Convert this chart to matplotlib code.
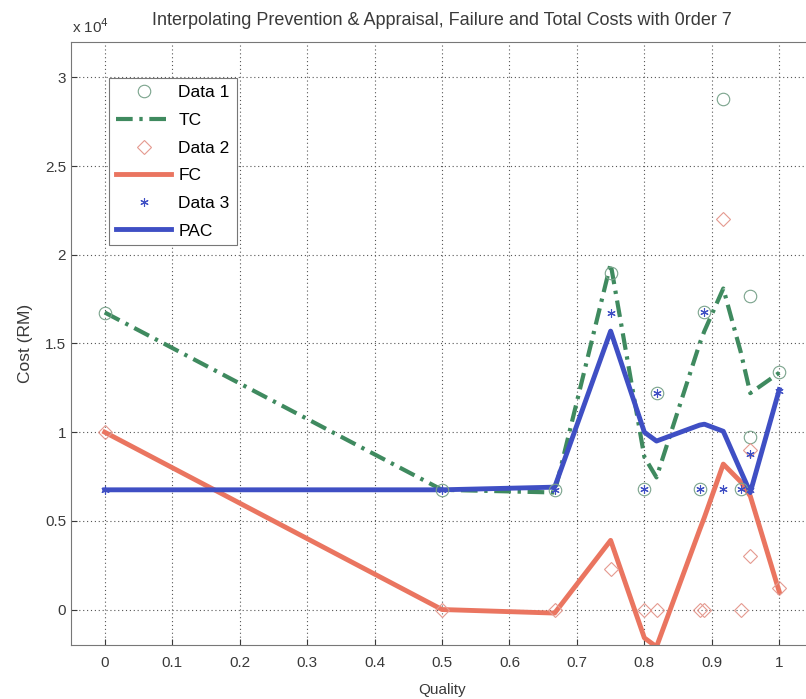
import numpy as np
import matplotlib
matplotlib.use('Agg')
from matplotlib import pyplot as plt

plt.rcParams['font.family'] = ['Liberation Sans', 'DejaVu Sans']

# 측정 데이터 (Quality, RM)
quality = [0, 0.5, 0.667, 0.75, 0.8, 0.818, 0.882, 0.889, 0.917, 0.943, 0.957, 0.957, 1.0]
tc_data = [16700, 6750, 6750, 19000, 6800, 12200, 6800, 16800, 28800, 6800, 17700, 9700, 13400]
fc_data = [10000, 0, 0, 2300, 0, 0, 0, 0, 22000, 0, 9000, 3000, 1200]
pac_data = [6750, 6750, 6750, 16700, 6800, 12200, 6800, 16800, 6800, 6800, 8750, 6750, 12300]

# 7차 보간 곡선 값
quality_fit = [0, 0.5, 0.667, 0.75, 0.8, 0.818, 0.882, 0.889, 0.917, 0.943, 0.957, 1.0]
tc_fit = [16750, 6750, 6600, 19500, 8600, 7450, 15000, 15700, 18100, 14500, 12200, 13350]
fc_fit = [10000, 0, -200, 3900, -1600, -2100, 4500, 5200, 8200, 7200, 6400, 1000]
pac_fit = [6750, 6750, 6900, 15700, 10000, 9500, 10400, 10450, 10050, 7800, 6600, 12400]

green = '#3f8a5f'
red = '#ea7560'
blue = '#3f4fc4'
txt = '#3a3a3a'

fig = plt.figure(figsize=(8.06, 6.99), dpi=100)
ax = fig.add_axes([71/806, 1-645/699, (813-71)/806, (645-42)/699])

ax.plot(quality, tc_data, 'o', color='#7aa38c', mfc='none', ms=9, mew=0.8, label='Data 1', zorder=3)
ax.plot(quality_fit, tc_fit, color=green, lw=3, dashes=(4, 1.6, 0.8, 1.6), label='TC', zorder=2)
ax.plot(quality, fc_data, 'D', color='#e59a90', mfc='none', ms=7.5, mew=0.8, label='Data 2', zorder=3)
ax.plot(quality_fit, fc_fit, '-', color=red, lw=3.5, label='FC', zorder=2)
ax.plot(quality, pac_data, ls='none', marker=(6, 2, 0), color=blue, ms=6, mew=0.8, label='Data 3', zorder=3)
ax.plot(quality_fit, pac_fit, '-', color=blue, lw=3.5, label='PAC', zorder=2)

ax.set_xlim(-0.05, 1.05)
ax.set_ylim(-2000, 32000)
ax.set_xticks(np.arange(0, 1.01, 0.1))
ax.set_xticklabels(['0', '0.1', '0.2', '0.3', '0.4', '0.5', '0.6', '0.7', '0.8', '0.9', '1'])
yt = np.arange(0, 30001, 5000)
ax.set_yticks(yt)
ax.set_yticklabels(['%g' % (v / 1e4) for v in yt])
ax.tick_params(direction='in', labelsize=11, colors=txt, length=4)
ax.tick_params(axis='x', pad=8)
ax.grid(True, ls=(0, (1, 2.5)), color='#555555', lw=0.8)
for s in ax.spines.values():
    s.set_color('#777777')

ax.set_xlabel('Quality', fontsize=11, color=txt, labelpad=9)
ax.set_ylabel('Cost (RM)', fontsize=12.5, color=txt, labelpad=9)
ax.set_title('Interpolating Prevention & Appraisal, Failure and Total Costs with 0rder 7',
             fontsize=13, color=txt, pad=12)
fig.text(72/806, 1-27/699, r'x 10$^4$', fontsize=11, color=txt, va='center')

leg = ax.legend(loc='upper left', bbox_to_anchor=(0.051, 0.94), borderaxespad=0,
                fontsize=12.5, handlelength=3.2, borderpad=0.4, labelspacing=0.72,
                handletextpad=0.4, fancybox=False, framealpha=1, edgecolor='#777777')
leg.get_frame().set_linewidth(0.8)

plt.savefig('out.png', dpi=100)
